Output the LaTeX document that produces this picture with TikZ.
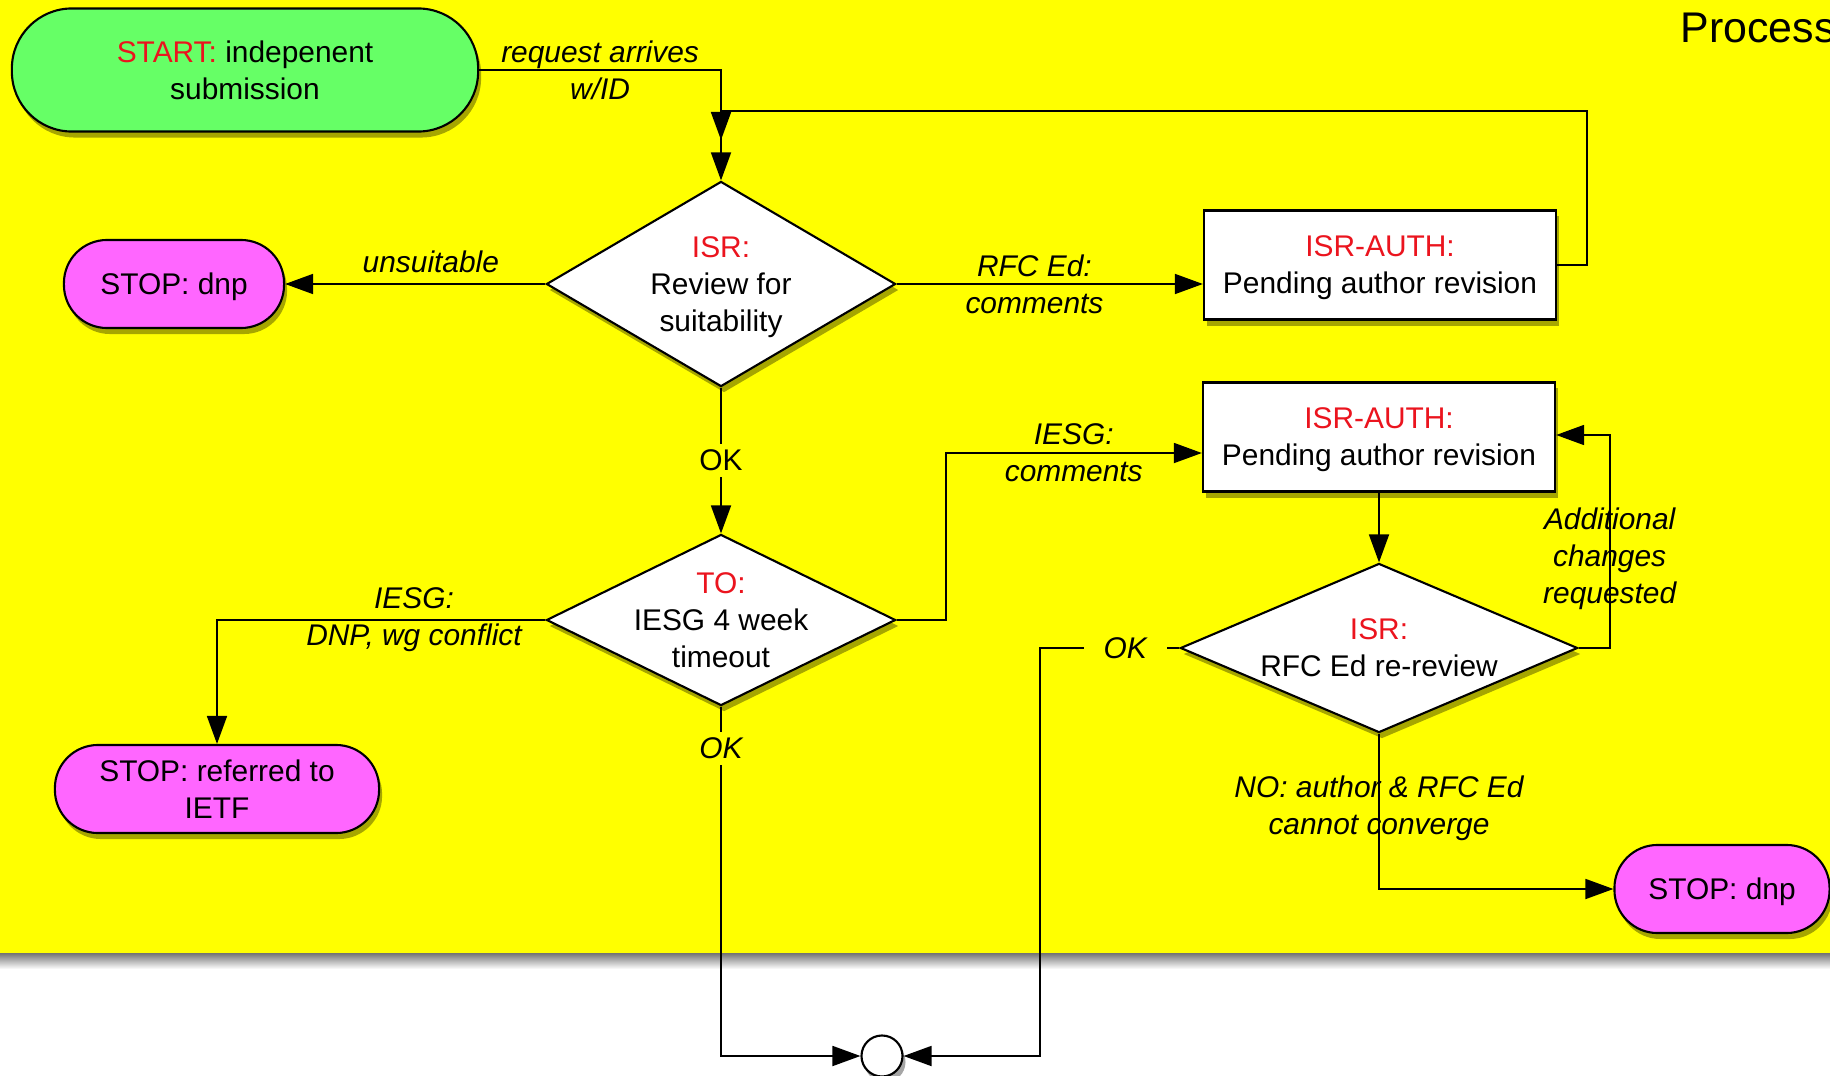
\documentclass[tikz,border=0pt]{standalone}
\usepackage{fontspec}
\setmainfont{Liberation Sans}
\usetikzlibrary{arrows.meta,shapes.geometric,shadows}
\definecolor{bgyellow}{RGB}{255,255,0}
\definecolor{startgreen}{RGB}{102,255,102}
\definecolor{stopmagenta}{RGB}{255,102,255}
\definecolor{statered}{RGB}{235,20,30}
\newcommand{\stname}[1]{\textcolor{statered}{#1}}
\tikzset{
  flow/.style={-{Triangle[length=0.28cm,width=0.2cm]},line width=0.5pt},
  boxshadow/.style={drop shadow={shadow xshift=0.03cm,shadow yshift=-0.06cm,opacity=0.35,fill=black}},
  terminal/.style={draw,line width=0.6pt,align=center,text depth=0pt,boxshadow},
  halt/.style={terminal,fill=stopmagenta,minimum height=0.88cm,rounded corners=0.43cm},
  pending/.style={draw,rectangle,fill=white,line width=0.6pt,align=center,text depth=0pt,minimum width=3.52cm,minimum height=1.09cm,boxshadow},
  decision/.style={draw,diamond,fill=white,line width=0.6pt,align=center,text depth=0pt,inner sep=0pt,boxshadow},
  cond/.style={font=\itshape,align=center},
  okay/.style={fill=bgyellow,inner sep=0.06cm}
}
\begin{document}
\fontsize{8.5pt}{10.5pt}\selectfont
\begin{tikzpicture}[x=0.01cm,y=-0.01cm]
  \useasboundingbox (0,0) rectangle (1830,1076);
  \fill[bgyellow] (0,0) rectangle (1830,953);
  \shade[top color=black!55,bottom color=white] (0,953) rectangle (1830,969);

  \node[terminal,fill=startgreen,minimum width=4.66cm,minimum height=1.23cm,rounded corners=0.6cm] (start) at (245,70) {\stname{START:} indepenent\\submission};
  \node[decision,aspect=1.7,minimum width=3.49cm,minimum height=2.05cm] (isr) at (721,284) {\stname{ISR:}\\Review for\\suitability};
  \node[halt,minimum width=2.2cm] (dnpA) at (174,284) {STOP: dnp};
  \node[pending] (authA) at (1380,265) {\stname{ISR-AUTH:}\\Pending author revision};
  \node[decision,aspect=2.04,inner xsep=-0.16cm,minimum width=3.49cm,minimum height=1.71cm] (to) at (721,620) {\stname{TO:}\\IESG 4 week\\timeout};
  \node[halt,minimum width=3.24cm] (ietf) at (217,789) {STOP: referred to\\IETF};
  \node[pending] (authB) at (1379,437) {\stname{ISR-AUTH:}\\Pending author revision};
  \node[decision,aspect=2.35,minimum width=3.97cm,minimum height=1.69cm] (rev) at (1379,648) {\stname{ISR:}\\RFC Ed re-review};
  \node[halt,minimum width=2.15cm] (dnpB) at (1722,889) {STOP: dnp};
  \node[circle,draw,fill=white,line width=0.6pt,minimum size=0.41cm,inner sep=0pt,boxshadow] (join) at (882,1056) {};
  \node[anchor=base west,inner sep=0pt,font=\fontsize{12.2pt}{14.6pt}\selectfont] (title) at (1680,43) {Process};

  \coordinate (merge) at (721,140);
  \draw[flow] (start.east) -- node[cond] {request arrives\\w/ID} (start.east -| isr.north) -- (isr.north);
  \draw[flow] (authA.east) -- ++(30,0) |- (721,111) -- (merge);
  \draw[flow] (isr.west) -- node[cond,above,pos=0.44] {unsuitable} (dnpA.east);
  \draw[flow] (isr.east) -- node[cond,pos=0.45] {RFC Ed:\\comments} (isr.east -| authA.west);
  \draw[flow] (isr.south) -- node[okay] {OK} (to.north);
  \draw[flow] (to.west) -| node[cond,pos=0.2] {IESG:\\DNP, wg conflict} (ietf.north);
  \draw[flow] (to.east) -- ++(49,0) |- node[cond,pos=0.75] {IESG:\\comments} ([yshift=-0.16cm]authB.west);
  \draw[flow] (authB.south) -- (rev.north);
  \draw[flow] (rev.east) -- ++(31,0) |- node[cond,pos=0.21] {Additional\\changes\\requested} ([yshift=0.02cm]authB.east);
  \draw[flow] (rev.south) |- node[cond,pos=0.24] {NO: author \& RFC Ed\\cannot converge} (dnpB.west);
  \draw[flow] (to.south) |- node[okay,font=\itshape,pos=0.06] {OK} (join.west);
  \draw[flow] (rev.west) -- node[okay,font=\itshape,inner xsep=0.2cm,pos=0.39] {OK} ++(-139,0) |- (join.east);
\end{tikzpicture}
\end{document}
